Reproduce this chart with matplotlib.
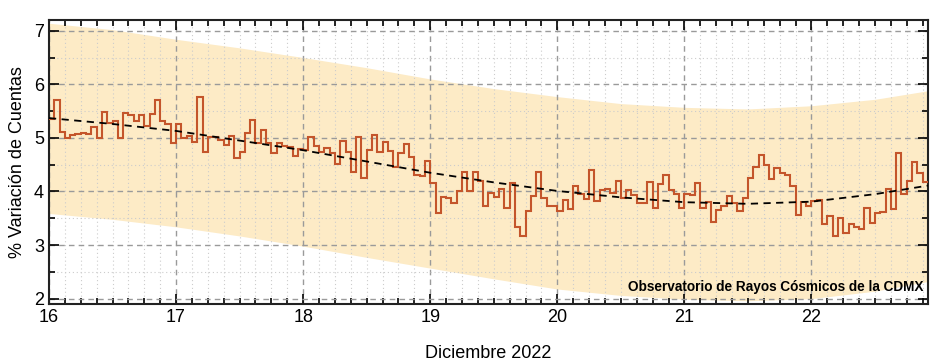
import numpy as np
import matplotlib.pyplot as plt
from matplotlib.ticker import MultipleLocator

plt.rcParams['font.family'] = ['Liberation Sans', 'DejaVu Sans']

# variacion horaria (%) desde el 16 de diciembre 00:00
variacion = [
    5.36, 5.70, 5.11, 4.99, 5.06, 5.08, 5.09, 5.08, 5.20, 4.99, 5.49, 5.28, 5.32, 5.00,
    5.46, 5.42, 5.31, 5.43, 5.22, 5.45, 5.71, 5.32, 5.25, 4.90, 5.25, 4.99, 5.04, 4.93,
    5.76, 4.74, 5.01, 5.02, 4.96, 4.86, 5.04, 4.63, 4.74, 5.10, 5.34, 4.91, 5.15, 4.91,
    4.71, 4.91, 4.84, 4.83, 4.66, 4.80, 4.78, 5.02, 4.85, 4.74, 4.81, 4.71,
    4.52, 4.94, 4.74, 4.37, 5.02, 4.26, 4.78, 5.05, 4.74, 4.92, 4.75, 4.45, 4.72, 4.89,
    4.65, 4.30, 4.29, 4.57, 4.16, 3.59, 3.90, 3.87, 3.78, 4.01, 4.37, 4.01, 4.37, 4.20,
    3.72, 3.98, 3.90, 4.04, 3.69, 4.16, 3.33, 3.17, 3.64, 3.91, 4.37, 3.88, 3.73, 3.72,
    3.64, 3.84, 3.67, 4.11, 3.96, 3.86, 4.40, 3.82, 4.03, 4.04, 3.98, 4.20, 3.87,
    4.03, 3.93, 3.78, 3.79, 4.18, 3.69, 4.14, 4.31, 4.03, 3.95, 3.69, 3.95, 3.93, 4.15,
    3.70, 3.81, 3.43, 3.65, 3.72, 3.91, 3.78, 3.64, 3.87, 4.26, 4.45, 4.69, 4.49, 4.23,
    4.44, 4.35, 4.31,
    4.11, 3.57, 3.81, 3.72, 3.82, 3.85, 3.39, 3.55, 3.16, 3.51, 3.23, 3.39, 3.34, 3.30,
    3.70, 3.41, 3.59, 3.61, 4.04, 3.67, 4.72, 3.96, 4.19, 4.55, 4.34, 4.18,
]

# tendencia y banda
dias = [16.0, 16.5, 17.0, 17.5, 18.0, 18.5, 19.0, 19.5, 20.0, 20.5, 21.0, 21.5, 22.0, 22.5, 22.917]
tendencia = [5.37, 5.26, 5.13, 4.95, 4.77, 4.56, 4.35, 4.17, 4.01, 3.89, 3.80, 3.77, 3.81, 3.95, 4.11]
banda_sup = [7.14, 7.02, 6.84, 6.68, 6.50, 6.31, 6.10, 5.92, 5.77, 5.64, 5.57, 5.54, 5.60, 5.72, 5.88]
banda_inf = [3.59, 3.48, 3.34, 3.17, 2.98, 2.77, 2.57, 2.37, 2.18, 2.06, 1.99, 1.96, 2.00, 2.14, 2.32]

bordes = 16 + np.arange(len(variacion) + 1) / 24.

fig = plt.figure(figsize=(9.4, 3.63), dpi=100)
ax = fig.add_axes([0.0521, 0.1625, 0.9351, 0.7824])

ax.fill_between(dias, banda_inf, banda_sup, color='#fdebc6', lw=0, zorder=1)
ax.stairs(variacion, bordes, baseline=None, color='#c4552b', lw=1.5, zorder=3)
ax.plot(dias, tendencia, '--', color='black', lw=1.3, dashes=(4, 3), zorder=4)

ax.set_xlim(16, bordes[-1])
ax.set_ylim(1.9, 7.2)
ax.xaxis.set_major_locator(MultipleLocator(1))
ax.xaxis.set_minor_locator(MultipleLocator(0.125))
ax.yaxis.set_major_locator(MultipleLocator(1))
ax.yaxis.set_minor_locator(MultipleLocator(0.5))

ax.grid(which='major', ls=(0, (4, 3)), color='#9a9a9a', lw=1)
ax.grid(which='minor', ls=(0, (1, 2.5)), color='#cccccc', lw=0.8)

ax.tick_params(which='both', direction='in', top=True, right=True, labelsize=13, width=1.2)
ax.tick_params(which='major', length=7)
ax.tick_params(which='minor', length=4)
for s in ax.spines.values():
    s.set_linewidth(1.5)
    s.set_color('#222222')

ax.set_xlabel('Diciembre 2022', fontsize=13, labelpad=14)
ax.set_ylabel('% Variación de Cuentas', fontsize=13, labelpad=6)

ax.text(0.995, 0.035, 'Observatorio de Rayos Cósmicos de la CDMX', transform=ax.transAxes,
        ha='right', va='bottom', fontsize=9.8, fontweight='bold', zorder=5)

fig.savefig('out.png', dpi=100)
